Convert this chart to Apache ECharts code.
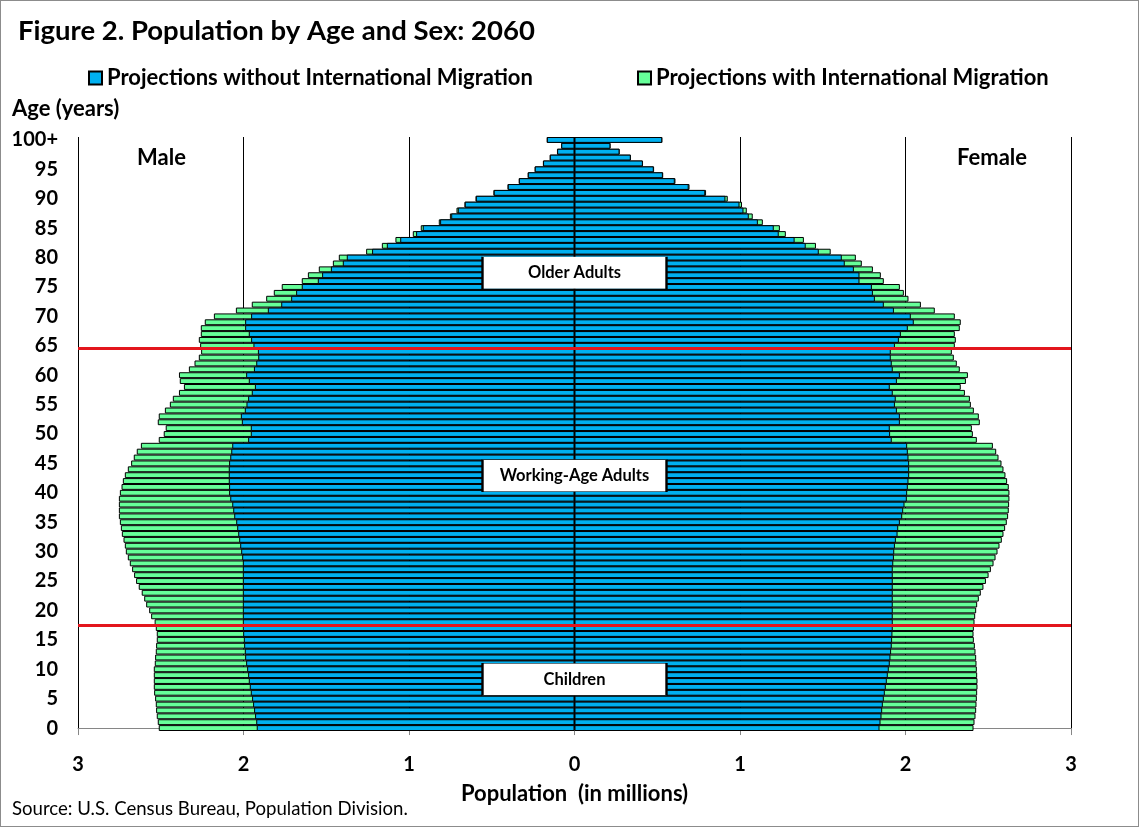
<!DOCTYPE html>
<html>
<head>
<meta charset="utf-8">
<script src="https://cdn.jsdelivr.net/npm/echarts@6/dist/echarts.min.js"></script>
<style>
  html, body { margin: 0; padding: 0; background: #fff; }
  #main { width: 1139px; height: 827px; box-sizing: border-box; border: 1px solid #8c8c8c; }
</style>
</head>
<body>
<div id="main"></div>
<script>
// ages 0..100+, values in millions
const ages = Array.from({ length: 101 }, (_, i) => (i === 100 ? '100+' : String(i)))

const maleWithout = [
  1.920, 1.923, 1.930, 1.936, 1.942, 1.948, 1.956, 1.962, 1.968, 1.972,
  1.978, 1.984, 1.990, 1.992, 1.996, 1.998, 2.002, 2.004, 2.004, 2.004,
  2.004, 2.004, 2.004, 2.004, 2.004, 2.004, 2.004, 2.004, 2.004, 2.008,
  2.014, 2.020, 2.026, 2.032, 2.038, 2.044, 2.056, 2.062, 2.068, 2.080,
  2.087, 2.087, 2.089, 2.089, 2.089, 2.087, 2.080, 2.074, 2.068, 1.972,
  1.956, 1.956, 2.010, 2.016, 1.992, 1.982, 1.972, 1.950, 1.931, 1.968,
  1.984, 1.937, 1.923, 1.911, 1.913, 1.940, 1.954, 1.968, 1.990, 1.990,
  1.954, 1.853, 1.772, 1.712, 1.682, 1.648, 1.551, 1.525, 1.472, 1.400,
  1.376, 1.223, 1.134, 1.053, 0.957, 0.917, 0.812, 0.745, 0.705, 0.663,
  0.596, 0.488, 0.403, 0.336, 0.282, 0.240, 0.190, 0.149, 0.105, 0.080,
  0.167
]
const maleWith = [
  2.512, 2.518, 2.524, 2.528, 2.530, 2.534, 2.540, 2.542, 2.542, 2.542,
  2.542, 2.536, 2.534, 2.530, 2.528, 2.524, 2.524, 2.530, 2.537, 2.558,
  2.570, 2.588, 2.600, 2.615, 2.633, 2.649, 2.661, 2.673, 2.687, 2.699,
  2.711, 2.717, 2.725, 2.735, 2.741, 2.747, 2.753, 2.753, 2.753, 2.753,
  2.747, 2.737, 2.729, 2.717, 2.699, 2.679, 2.663, 2.645, 2.620, 2.512,
  2.482, 2.470, 2.518, 2.512, 2.475, 2.445, 2.427, 2.390, 2.360, 2.385,
  2.390, 2.330, 2.296, 2.270, 2.256, 2.262, 2.270, 2.258, 2.258, 2.234,
  2.179, 2.046, 1.950, 1.863, 1.817, 1.769, 1.648, 1.611, 1.545, 1.460,
  1.424, 1.259, 1.164, 1.082, 0.977, 0.929, 0.820, 0.753, 0.713, 0.665,
  0.598, 0.490, 0.405, 0.337, 0.283, 0.241, 0.191, 0.150, 0.106, 0.081,
  0.168
]
const femaleWithout = [
  1.843, 1.849, 1.855, 1.859, 1.863, 1.869, 1.875, 1.881, 1.887, 1.893,
  1.899, 1.905, 1.909, 1.913, 1.917, 1.919, 1.921, 1.923, 1.923, 1.923,
  1.923, 1.923, 1.923, 1.923, 1.923, 1.923, 1.923, 1.923, 1.926, 1.930,
  1.932, 1.936, 1.942, 1.952, 1.956, 1.966, 1.980, 1.986, 1.994, 2.008,
  2.010, 2.014, 2.018, 2.022, 2.022, 2.022, 2.018, 2.014, 2.010, 1.917,
  1.907, 1.905, 1.966, 1.966, 1.948, 1.936, 1.941, 1.923, 1.905, 1.948,
  1.966, 1.923, 1.917, 1.911, 1.911, 1.936, 1.960, 1.972, 2.014, 2.050,
  2.032, 1.930, 1.869, 1.815, 1.803, 1.797, 1.722, 1.722, 1.688, 1.633,
  1.615, 1.476, 1.397, 1.330, 1.234, 1.204, 1.108, 1.053, 1.021, 0.997,
  0.912, 0.790, 0.690, 0.606, 0.534, 0.479, 0.413, 0.340, 0.272, 0.217,
  0.530
]
const femaleWith = [
  2.411, 2.417, 2.423, 2.427, 2.429, 2.431, 2.433, 2.435, 2.435, 2.433,
  2.431, 2.429, 2.427, 2.423, 2.419, 2.413, 2.411, 2.413, 2.417, 2.421,
  2.427, 2.433, 2.443, 2.455, 2.471, 2.486, 2.502, 2.516, 2.532, 2.544,
  2.556, 2.568, 2.582, 2.592, 2.602, 2.612, 2.620, 2.624, 2.626, 2.628,
  2.628, 2.624, 2.614, 2.604, 2.592, 2.580, 2.562, 2.548, 2.528, 2.431,
  2.407, 2.401, 2.449, 2.443, 2.413, 2.395, 2.389, 2.359, 2.334, 2.365,
  2.377, 2.328, 2.310, 2.292, 2.280, 2.298, 2.304, 2.298, 2.328, 2.334,
  2.298, 2.177, 2.093, 2.018, 1.990, 1.966, 1.869, 1.851, 1.803, 1.736,
  1.700, 1.548, 1.459, 1.386, 1.277, 1.241, 1.138, 1.077, 1.041, 1.012,
  0.926, 0.795, 0.695, 0.610, 0.536, 0.481, 0.414, 0.341, 0.273, 0.218,
  0.531
]

// age-group boxes and the boundaries between groups
const groupNames = ['Older Adults', 'Working-Age Adults', 'Children']
const groupAges = [77.4, 42.9, 8.3]
const groupBreaks = [64.5, 17.5]

const nameWithout = 'Projections without International Migration'
const nameWith = 'Projections with International Migration'
const blue = '#00B0F0'
const green = '#66FF99'
const font = 'Lato, "Open Sans", sans-serif'

const chart = echarts.init(document.getElementById('main'))

function barSeries(name, values, color, sign) {
  return {
    name: name,
    type: 'bar',
    barGap: '-100%',
    barCategoryGap: 0,
    itemStyle: { color: color, borderColor: '#000', borderWidth: 1 },
    emphasis: { disabled: true },
    data: values.map(v => sign * v)
  }
}

function txt(size, weight) {
  return { fontSize: size, fontWeight: weight || 'bold', color: '#000', fontFamily: font }
}

chart.setOption({
  animation: false,
  textStyle: { fontFamily: font },
  title: [
    { text: 'Figure 2. Population by Age and Sex: 2060', left: 17, top: 16, padding: 0,
      textStyle: txt(27.5) },
    { text: 'Age (years)', left: 11, top: 97, padding: 0, textStyle: txt(22) },
    { text: 'Male', left: 136, top: 146, padding: 0, textStyle: txt(22) },
    { text: 'Female', left: 956, top: 146, padding: 0, textStyle: txt(22) },
    { text: 'Source: U.S. Census Bureau, Population Division.', left: 11, top: 798, padding: 0,
      textStyle: txt(18.6, 'normal') }
  ],
  legend: [
    { data: [nameWithout], left: 87, top: 66, padding: 0, icon: 'rect', itemWidth: 13, itemHeight: 13,
      itemGap: 4, textStyle: txt(22) },
    { data: [nameWith], left: 636, top: 66, padding: 0, icon: 'rect', itemWidth: 13, itemHeight: 13,
      itemGap: 4, textStyle: txt(22) }
  ],
  grid: { left: 77, right: 67, top: 136, bottom: 95 },
  xAxis: {
    type: 'value',
    min: -3,
    max: 3,
    interval: 1,
    name: 'Population  (in millions)',
    nameLocation: 'middle',
    nameGap: 52,
    nameTextStyle: txt(22),
    axisLine: { show: true, lineStyle: { color: '#868686' } },
    axisTick: { show: true, length: 7, lineStyle: { color: '#868686' } },
    axisLabel: {
      margin: 24,
      fontSize: 20,
      fontWeight: 'bold',
      color: '#000',
      formatter: v => String(Math.abs(v))
    },
    splitLine: { show: true, lineStyle: { color: '#000', width: 1 } }
  },
  yAxis: [
    {
      type: 'category',
      data: ages,
      axisLine: { show: false, onZero: false },
      axisTick: { show: false },
      axisLabel: {
        interval: (i) => i % 5 === 0,
        margin: 20,
        fontSize: 20,
        fontWeight: 'bold',
        color: '#000'
      }
    },
    {
      type: 'value',
      min: -0.5,
      max: 100.5,
      show: false
    }
  ],
  series: [
    barSeries(nameWith, maleWith, green, -1),
    barSeries(nameWithout, maleWithout, blue, -1),
    barSeries(nameWith, femaleWith, green, 1),
    barSeries(nameWithout, femaleWithout, blue, 1),
    {
      type: 'scatter',
      yAxisIndex: 1,
      symbol: 'rect',
      symbolSize: [184, 32],
      silent: true,
      itemStyle: { color: '#fff', borderColor: '#000', borderWidth: 1, opacity: 1 },
      label: {
        show: true,
        position: 'inside',
        formatter: p => p.name,
        fontSize: 16.5,
        fontWeight: 'bold',
        color: '#000',
        fontFamily: font
      },
      data: groupNames.map((n, i) => ({ name: n, value: [0, groupAges[i]] })),
      markLine: {
        silent: true,
        symbol: 'none',
        label: { show: false },
        lineStyle: { color: '#E3161D', width: 3, type: 'solid' },
        data: groupBreaks.map(b => ({ yAxis: b }))
      },
      z: 5
    }
  ]
})
</script>
</body>
</html>
